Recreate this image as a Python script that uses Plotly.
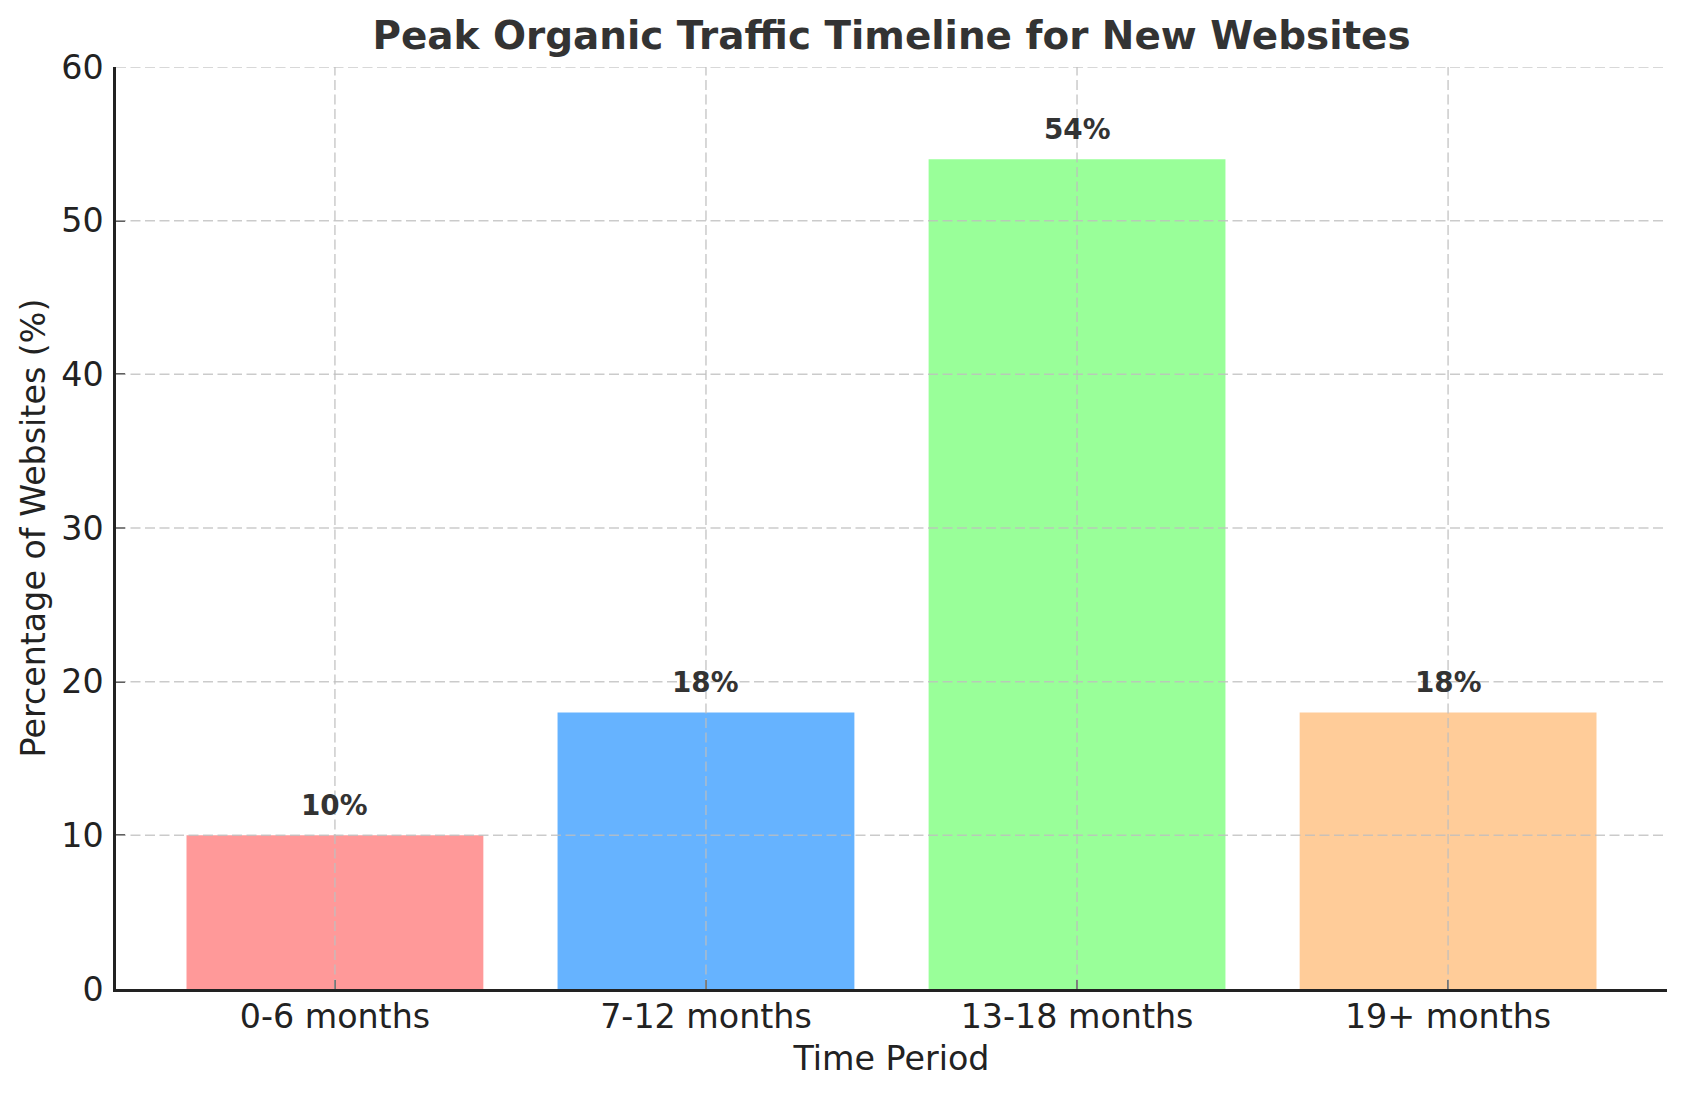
import plotly.graph_objects as go

categories = ["0-6 months", "7-12 months", "13-18 months", "19+ months"]
percentages = [10, 18, 54, 18]
bar_colors = ["#ff9999", "#66b3ff", "#99ff99", "#ffcc99"]
y_ticks = [0, 10, 20, 30, 40, 50, 60]

FONT = "DejaVu Sans"
W, H = 1686, 1097

fig = go.Figure()
fig.add_trace(go.Bar(
    x=categories, y=percentages,
    marker=dict(color=bar_colors, line=dict(width=0)),
    hoverinfo="skip",
))

# grid above bars (matplotlib style)
grid_style = dict(color="rgba(190,190,190,0.8)", width=1.5, dash="10px,4.5px")
shapes = []
for c in categories:
    shapes.append(dict(type="line", xref="x", yref="paper", x0=c, x1=c, y0=0, y1=1,
                       line=grid_style, layer="above"))
for t in y_ticks[1:]:
    shapes.append(dict(type="line", xref="paper", yref="y", x0=0, x1=1, y0=t, y1=t,
                       line=grid_style, layer="above"))

annotations = []
for c, v in zip(categories, percentages):
    annotations.append(dict(x=c, y=v, xref="x", yref="y", text=f"{v}%",
                            showarrow=False, yanchor="middle", yshift=30,
                            font=dict(family=FONT, size=27.8, color="#333333", weight="bold")))

fig.update_layout(
    width=W, height=H,
    margin=dict(l=116, r=19, t=67, b=108),
    paper_bgcolor="white", plot_bgcolor="white",
    bargap=0.2,
    showlegend=False,
    shapes=shapes,
    annotations=annotations,
    title=dict(text="<b>Peak Organic Traffic Timeline for New Websites</b>",
               x=0.5, xref="paper", xanchor="center",
               y=1 - 35.5 / H, yref="container", yanchor="middle",
               font=dict(family=FONT, size=38.9, color="#333333")),
    font=dict(family=FONT, color="#222222"),
)

fig.update_xaxes(
    type="category", range=[-0.59, 3.59],
    showgrid=False, zeroline=False,
    showline=True, linecolor="#222222", linewidth=2.5,
    ticks="inside", ticklen=9.5, tickwidth=2, tickcolor="#222222",
    ticklabelstandoff=-4,
    tickfont=dict(family=FONT, size=33.3, color="#222222"),
    title=dict(text="Time Period", font=dict(family=FONT, size=33.3, color="#222222"), standoff=12),
)
fig.update_yaxes(
    range=[0, 60], tickvals=y_ticks,
    showgrid=False, zeroline=False,
    showline=True, linecolor="#222222", linewidth=2.5,
    ticks="inside", ticklen=9.5, tickwidth=2, tickcolor="#222222",
    ticklabelstandoff=3,
    tickfont=dict(family=FONT, size=33.3, color="#222222"),
    title=dict(text="Percentage of Websites (%)", font=dict(family=FONT, size=33.3, color="#222222"), standoff=6),
)

fig.write_html("out.html")
